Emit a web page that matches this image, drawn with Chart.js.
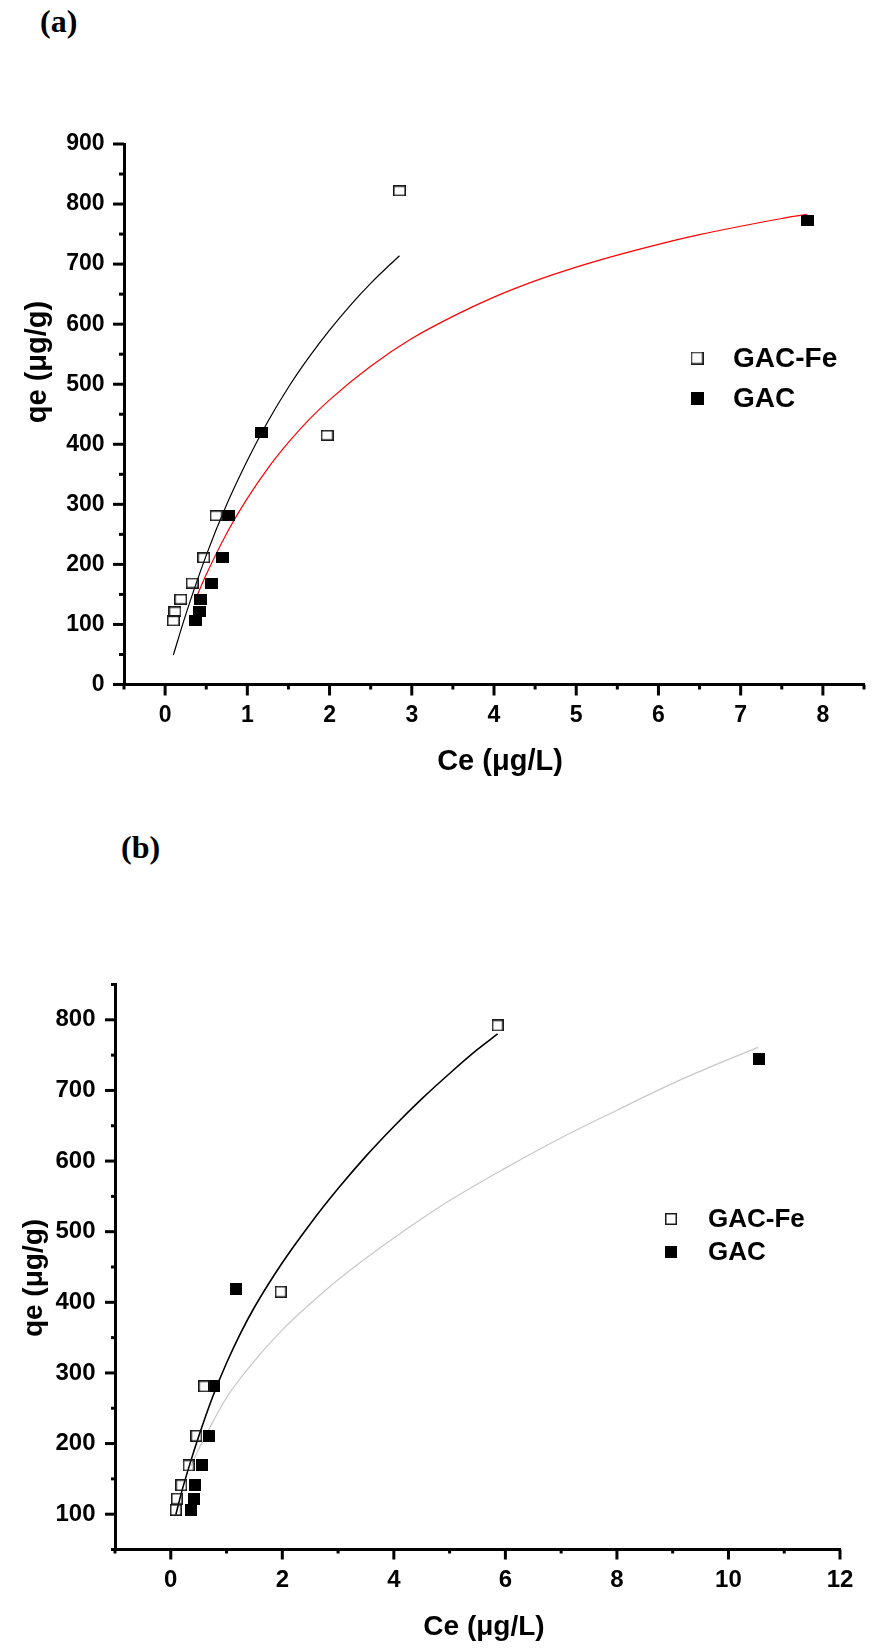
<!DOCTYPE html>
<html>
<head>
<meta charset="utf-8">
<script src="https://cdn.jsdelivr.net/npm/chart.js@4.4.1/dist/chart.umd.min.js"></script>
<style>
html,body{margin:0;padding:0;background:#fff;}
body{width:875px;height:1651px;position:relative;overflow:hidden;}
.panel{position:absolute;font-family:"Liberation Serif","Times New Roman",serif;font-weight:bold;font-size:32px;line-height:32px;color:#000;}
canvas{position:absolute;left:0;}
</style>
</head>
<body>
<div class="panel" style="left:40px;top:5px">(a)</div>
<div class="panel" style="left:121px;top:831px">(b)</div>
<canvas id="ca" width="875" height="800" style="top:0px"></canvas>
<canvas id="cb" width="875" height="851" style="top:800px"></canvas>
<script>
// ---------- Panel (a) ----------
const xMajorA = [0, 1, 2, 3, 4, 5, 6, 7, 8];
const xMinorA = [-0.5, 0.5, 1.5, 2.5, 3.5, 4.5, 5.5, 6.5, 7.5, 8.5];
const yMajorA = [0, 100, 200, 300, 400, 500, 600, 700, 800, 900];
const yMinorA = [50, 150, 250, 350, 450, 550, 650, 750, 850];

const feCeA  = [0.10, 0.12, 0.19, 0.33, 0.47, 0.62, 1.97, 2.85];
const feQeA  = [106, 121, 142, 169, 211, 281, 415, 822];
const gacCeA = [0.37, 0.42, 0.43, 0.57, 0.70, 0.77, 1.17, 7.81];
const gacQeA = [106, 121, 141, 169, 211, 281, 419, 772];

const fitFeCeA  = [0.10, 0.25, 0.50, 0.75, 1.00, 1.25, 1.50, 1.75, 2.00, 2.25, 2.50, 2.85];
const fitFeQeA  = [49, 116, 215, 300, 373, 438, 495, 545, 590, 631, 668, 714];
const fitGacCeA = [0.37, 0.50, 0.75, 1.00, 1.25, 1.50, 1.75, 2.00, 2.50, 3.00, 3.50, 4.00, 4.50, 5.00, 5.50, 6.00, 6.50, 7.00, 7.50, 7.81];
const fitGacQeA = [142, 183, 252, 310, 360, 403, 441, 474, 530, 576, 613, 645, 672, 695, 715, 733, 749, 763, 776, 783];

// ---------- Panel (b) ----------
const xMajorB = [0, 2, 4, 6, 8, 10, 12];
const xMinorB = [-1, 1, 3, 5, 7, 9, 11];
const yMajorB = [100, 200, 300, 400, 500, 600, 700, 800];
const yMinorB = [50, 150, 250, 350, 450, 550, 650, 750, 850];

const feCeB  = [0.09, 0.11, 0.19, 0.32, 0.46, 0.60, 1.97, 5.86];
const feQeB  = [106, 122, 141, 169, 211, 281, 415, 792];
const gacCeB = [0.36, 0.41, 0.43, 0.56, 0.68, 0.77, 1.17, 10.54];
const gacQeB = [106, 121, 141, 169, 211, 281, 419, 744];

const fitFeCeB  = [0.09, 0.20, 0.35, 0.50, 0.75, 1.00, 1.25, 1.50, 2.00, 2.50, 3.00, 3.50, 4.00, 4.50, 5.00, 5.50, 5.86];
const fitFeQeB  = [99, 133, 173, 210, 266, 314, 356, 393, 456, 511, 561, 607, 649, 688, 724, 758, 780];
const fitGacCeB = [0.36, 0.50, 0.75, 1.00, 1.50, 2.00, 2.50, 3.00, 4.00, 5.00, 6.00, 7.00, 8.00, 9.00, 10.00, 10.53];
const fitGacQeB = [168, 192, 230, 265, 317, 361, 398, 432, 491, 544, 590, 633, 672, 710, 744, 761];

const seriesNames = ['GAC-Fe', 'GAC'];
const xTitle = 'Ce (\u03BCg/L)';
const yTitle = 'qe (\u03BCg/g)';

const FONT = '"Liberation Sans", Arial, Helvetica, sans-serif';

function pts(xs, ys) { return xs.map((x, i) => ({ x: x, y: ys[i] })); }

function rectImg(w, h, filled, lw) {
  const c = document.createElement('canvas');
  c.width = w; c.height = h;
  const g = c.getContext('2d');
  if (filled) { g.fillStyle = '#000'; g.fillRect(0, 0, w, h); }
  else { g.strokeStyle = '#1a1a1a'; g.lineWidth = lw; g.strokeRect(lw / 2, lw / 2, w - lw, h - lw); }
  return c;
}

const tickPlugin = {
  id: 'tickMarks',
  afterDraw(chart, args, o) {
    const ctx = chart.ctx, ca = chart.chartArea;
    const xs = chart.scales.x, ys = chart.scales.y;
    ctx.save();
    ctx.strokeStyle = '#000';
    ctx.lineWidth = 3;
    ctx.lineCap = 'butt';
    const dx = (vals, len) => vals.forEach(v => {
      const p = xs.getPixelForValue(v);
      ctx.beginPath(); ctx.moveTo(p, ca.bottom); ctx.lineTo(p, ca.bottom + len); ctx.stroke();
    });
    const dy = (vals, len) => vals.forEach(v => {
      const p = ys.getPixelForValue(v);
      ctx.beginPath(); ctx.moveTo(ca.left, p); ctx.lineTo(ca.left - len, p); ctx.stroke();
    });
    dx(o.xMajor, o.major); dx(o.xMinor, o.minor);
    dy(o.yMajor, o.major); dy(o.yMinor, o.minor);
    ctx.restore();
  }
};

const decoPlugin = {
  id: 'deco',
  afterDraw(chart, args, o) {
    const ctx = chart.ctx;
    ctx.save();
    ctx.fillStyle = '#000';
    ctx.font = 'bold ' + o.titleSize + 'px ' + FONT;
    ctx.textAlign = 'center';
    ctx.textBaseline = 'middle';
    ctx.fillText(xTitle, o.xTitle[0], o.xTitle[1]);
    ctx.save();
    ctx.translate(o.yTitle[0], o.yTitle[1]);
    ctx.rotate(-Math.PI / 2);
    ctx.fillText(yTitle, 0, 0);
    ctx.restore();
    // legend
    ctx.font = 'bold ' + o.legSize + 'px ' + FONT;
    ctx.textAlign = 'left';
    o.legRows.forEach((r, i) => {
      const img = o.legImgs[i];
      ctx.drawImage(img, r[0] - img.width / 2, r[1] - img.height / 2);
      ctx.fillText(seriesNames[i], o.legTextX, r[1] + 1);
    });
    ctx.restore();
  }
};

function scaleCfg(axis, min, max, major, size, pad, fitSize) {
  return {
    type: 'linear',
    min: min, max: max,
    grid: { display: false, drawTicks: false },
    border: { display: true, color: '#000', width: 3 },
    afterBuildTicks: s => { s.ticks = major.map(v => ({ value: v })); },
    afterFit: s => { if (axis === 'x') s.height = fitSize; else s.width = fitSize; },
    ticks: {
      color: '#000', padding: pad, autoSkip: false, maxRotation: 0,
      font: { family: FONT, weight: 'bold', size: size },
      callback: v => String(v)
    }
  };
}

function makeChart(id, d) {
  return new Chart(document.getElementById(id), {
    type: 'scatter',
    data: {
      datasets: [
        { label: seriesNames[0], data: pts(d.feCe, d.feQe), pointStyle: d.openImg, pointRadius: 7, pointHoverRadius: 7, showLine: false, order: 0 },
        { label: seriesNames[1], data: pts(d.gacCe, d.gacQe), pointStyle: d.fillImg, pointRadius: 7, pointHoverRadius: 7, showLine: false, order: 0 },
        { label: 'fit1', data: pts(d.f1x, d.f1y), showLine: true, pointRadius: 0, borderColor: d.c1, borderWidth: d.w1, cubicInterpolationMode: 'monotone', fill: false, order: 1 },
        { label: 'fit2', data: pts(d.f2x, d.f2y), showLine: true, pointRadius: 0, borderColor: d.c2, borderWidth: d.w2, cubicInterpolationMode: 'monotone', fill: false, order: 1 }
      ]
    },
    options: {
      responsive: false,
      animation: false,
      devicePixelRatio: 1,
      layout: { padding: d.padding },
      plugins: {
        legend: { display: false },
        tooltip: { enabled: false },
        tickMarks: d.ticks,
        deco: d.deco
      },
      scales: {
        x: scaleCfg('x', d.xmin, d.xmax, d.xMajor, d.tickSize, d.xPad, d.xH),
        y: scaleCfg('y', d.ymin, d.ymax, d.yMajor, d.tickSize, d.yPad, d.yW)
      }
    },
    plugins: [tickPlugin, decoPlugin]
  });
}

makeChart('ca', {
  feCe: feCeA, feQe: feQeA, gacCe: gacCeA, gacQe: gacQeA,
  f1x: fitFeCeA, f1y: fitFeQeA, f2x: fitGacCeA, f2y: fitGacQeA,
  c1: '#000000', w1: 1.2, c2: '#ff0000', w2: 1.2,
  openImg: rectImg(13, 11, false, 1.6), fillImg: rectImg(13, 11, true, 0),
  xmin: -0.5, xmax: 8.5, ymin: 0, ymax: 900,
  xMajor: xMajorA, yMajor: yMajorA,
  tickSize: 23, xPad: 17, yPad: 19.5, xH: 100, yW: 124,
  padding: { left: 0, right: 11, top: 144, bottom: 15.5 },
  ticks: { xMajor: xMajorA, xMinor: xMinorA, yMajor: yMajorA, yMinor: yMinorA, major: 11, minor: 5 },
  deco: {
    titleSize: 29, xTitle: [500, 762], yTitle: [38, 362],
    legSize: 28, legTextX: 733, legRows: [[697, 358], [697, 398]],
    legImgs: [rectImg(13, 13, false, 1.5), rectImg(13, 13, true, 0)]
  }
});

makeChart('cb', {
  feCe: feCeB, feQe: feQeB, gacCe: gacCeB, gacQe: gacQeB,
  f1x: fitFeCeB, f1y: fitFeQeB, f2x: fitGacCeB, f2y: fitGacQeB,
  c1: '#000000', w1: 1.6, c2: '#c8c8c8', w2: 1.2,
  openImg: rectImg(12, 12, false, 1.6), fillImg: rectImg(12, 12, true, 0),
  xmin: -1, xmax: 12, ymin: 50, ymax: 850,
  xMajor: xMajorB, yMajor: yMajorB,
  tickSize: 24, xPad: 16, yPad: 19.5, xH: 90, yW: 115,
  padding: { left: 0, right: 35, top: 184.5, bottom: 11.5 },
  ticks: { xMajor: xMajorB, xMinor: xMinorB, yMajor: yMajorB, yMinor: yMinorB, major: 10, minor: 4 },
  deco: {
    titleSize: 28, xTitle: [484, 827], yTitle: [34, 478],
    legSize: 26, legTextX: 708, legRows: [[671, 419], [671, 452]],
    legImgs: [rectImg(12, 12, false, 1.5), rectImg(12, 12, true, 0)]
  }
});
</script>
</body>
</html>
